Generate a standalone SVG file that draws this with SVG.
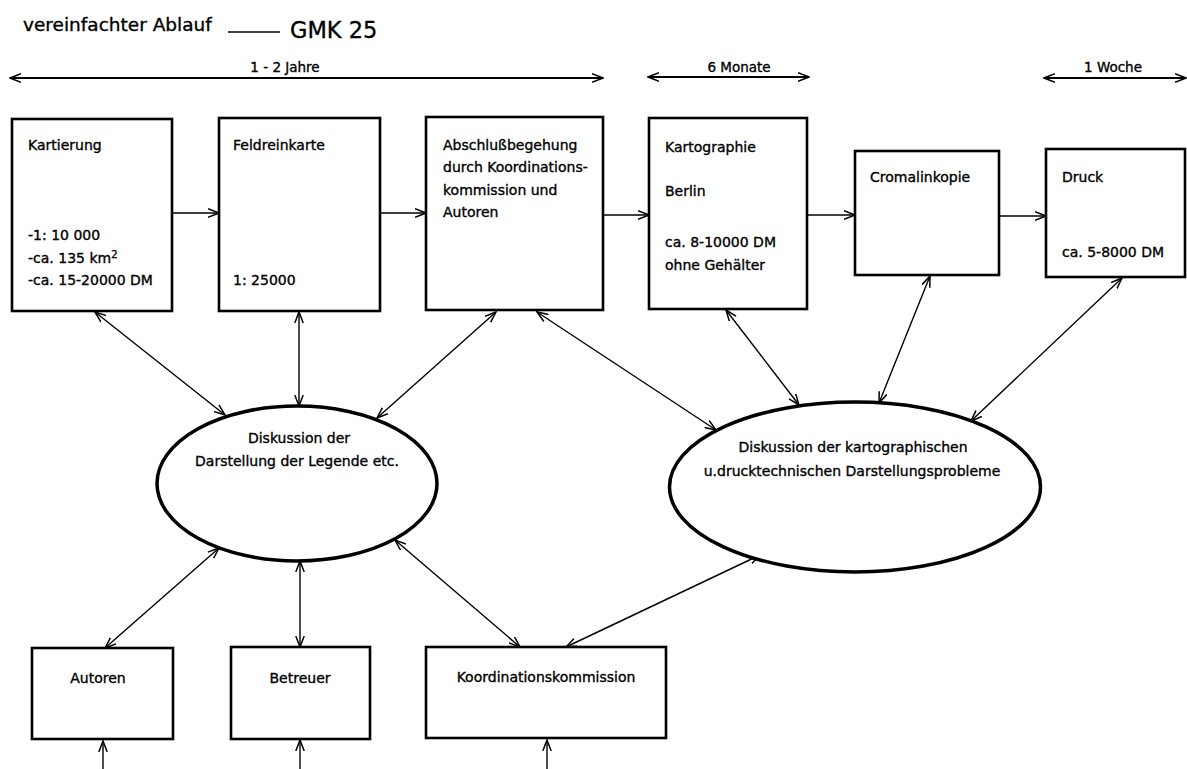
<svg xmlns="http://www.w3.org/2000/svg" width="1187" height="769" viewBox="0 0 1187 769">
<style>
text{font-family:"DejaVu Sans","Liberation Sans",sans-serif;fill:#000;font-size:14px;stroke:#000;stroke-width:0.35}
.mid{text-anchor:middle}
.box{fill:#fff;stroke:#000;stroke-width:2.6}
.ell{fill:#fff;stroke:#000;stroke-width:3.5}
.c{stroke:#000;stroke-width:1.4;fill:none}
.t{stroke:#000;stroke-width:2;fill:none}
.a1{marker-end:url(#ah)}
.a2{marker-start:url(#ah);marker-end:url(#ah)}
.tl{font-size:13.5px}
</style>
<defs>
<marker id="ah" viewBox="0 0 12 10" refX="11" refY="5" markerWidth="12" markerHeight="10" markerUnits="userSpaceOnUse" orient="auto-start-reverse">
<path d="M0,0.8 L11,5 L0,9.2" fill="none" stroke="#000" stroke-width="1.5"/>
</marker>
</defs>
<rect width="1187" height="769" fill="#fff"/>
<g id="title">
<text x="23" y="31" style="font-size:18.5px">vereinfachter Ablauf</text>
<line x1="228" y1="32" x2="280" y2="32" stroke="#000" stroke-width="1.6"/>
<text x="290" y="38" style="font-size:22.5px">GMK 25</text>
</g>
<g id="timeline">
<line class="t a2" x1="10" y1="78" x2="603" y2="78"/>
<text class="mid tl" x="285" y="72">1 - 2 Jahre</text>
<line class="t a2" x1="648" y1="77" x2="809" y2="77"/>
<text class="mid tl" x="739" y="72">6 Monate</text>
<line class="t a2" x1="1044" y1="78" x2="1186" y2="78"/>
<text class="mid tl" x="1113" y="72">1 Woche</text>
</g>
<g id="connectors">
<line class="c a1" x1="172" y1="213" x2="219" y2="213"/>
<line class="c a1" x1="380" y1="213" x2="426" y2="213"/>
<line class="c a1" x1="603" y1="215" x2="649" y2="215"/>
<line class="c a1" x1="807" y1="215" x2="855" y2="215"/>
<line class="c a1" x1="999" y1="216" x2="1046" y2="216"/>
<line class="c a2" x1="95" y1="312" x2="225" y2="415"/>
<line class="c a2" x1="299" y1="312" x2="299" y2="406"/>
<line class="c a2" x1="496" y1="312" x2="377" y2="418"/>
<line class="c a2" x1="537" y1="312" x2="716" y2="430"/>
<line class="c a2" x1="726" y1="310" x2="799" y2="405"/>
<line class="c a2" x1="930" y1="276" x2="879" y2="403"/>
<line class="c a2" x1="1122" y1="278" x2="971" y2="421"/>
<line class="c a2" x1="219" y1="548" x2="105" y2="648"/>
<line class="c a2" x1="300" y1="561" x2="300" y2="647"/>
<line class="c a2" x1="395" y1="540" x2="520" y2="647"/>
<line class="c a2" x1="760" y1="555" x2="566" y2="647"/>
<line class="c a1" x1="103" y1="769" x2="103" y2="741"/>
<line class="c a1" x1="300" y1="769" x2="300" y2="740"/>
<line class="c a1" x1="547" y1="769" x2="547" y2="740"/>
</g>
<g id="kartierung">
<rect class="box" x="12" y="119" width="160" height="192"/>
<text x="28" y="150">Kartierung</text>
<text x="28" y="240">-1: 10 000</text>
<text x="28" y="263">-ca. 135 km<tspan dy="-5" style="font-size:10px">2</tspan></text>
<text x="28" y="285">-ca. 15-20000 DM</text>
</g>
<g id="feldreinkarte">
<rect class="box" x="219" y="118" width="161" height="193"/>
<text x="233" y="150">Feldreinkarte</text>
<text x="233" y="285">1: 25000</text>
</g>
<g id="abschluss">
<rect class="box" x="426" y="117" width="177" height="193"/>
<text x="443" y="150">Abschlußbegehung</text>
<text x="443" y="172">durch Koordinations-</text>
<text x="443" y="195">kommission und</text>
<text x="443" y="217">Autoren</text>
</g>
<g id="kartographie">
<rect class="box" x="649" y="118" width="158" height="191"/>
<text x="665" y="152">Kartographie</text>
<text x="665" y="196">Berlin</text>
<text x="665" y="247">ca. 8-10000 DM</text>
<text x="665" y="270">ohne Gehälter</text>
</g>
<g id="cromalinkopie">
<rect class="box" x="855" y="151" width="144" height="124"/>
<text x="870" y="182">Cromalinkopie</text>
</g>
<g id="druck">
<rect class="box" x="1046" y="149" width="139" height="128"/>
<text x="1062" y="182">Druck</text>
<text x="1062" y="257">ca. 5-8000 DM</text>
</g>
<g id="diskussion1">
<ellipse class="ell" cx="297" cy="483.5" rx="140" ry="77.5"/>
<text class="mid" x="299" y="443">Diskussion der</text>
<text class="mid" x="297" y="466">Darstellung der Legende etc.</text>
</g>
<g id="diskussion2">
<ellipse class="ell" cx="855" cy="487" rx="185.5" ry="85"/>
<text class="mid" x="853" y="452">Diskussion der kartographischen</text>
<text class="mid" x="852" y="476">u.drucktechnischen Darstellungsprobleme</text>
</g>
<g id="autoren">
<rect class="box" x="32" y="648" width="141" height="91"/>
<text class="mid" x="98" y="683">Autoren</text>
</g>
<g id="betreuer">
<rect class="box" x="231" y="647" width="139" height="92"/>
<text class="mid" x="300" y="683">Betreuer</text>
</g>
<g id="koordination">
<rect class="box" x="426" y="647" width="240" height="91"/>
<text class="mid" x="546" y="682">Koordinationskommission</text>
</g>
</svg>
